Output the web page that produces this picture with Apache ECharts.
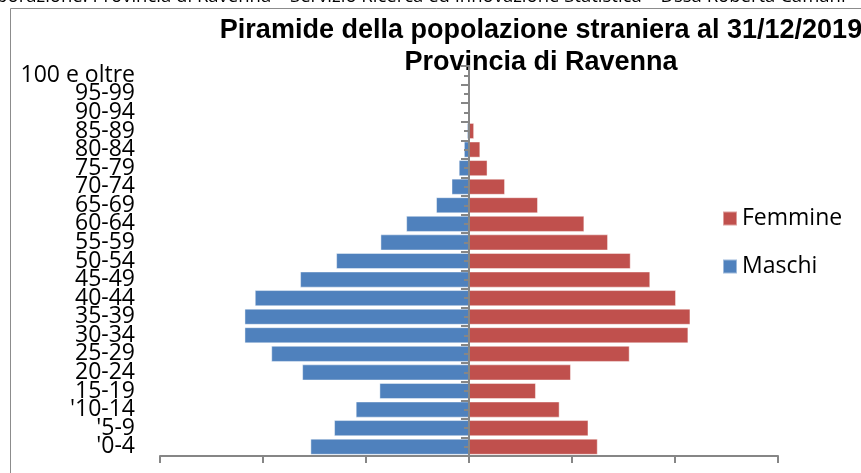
<!DOCTYPE html>
<html>
<head>
<meta charset="utf-8">
<script src="https://cdn.jsdelivr.net/npm/echarts@6/dist/echarts.min.js"></script>
<style>
  html, body { margin: 0; padding: 0; background: #fff; }
  #chart { width: 861px; height: 473px; }
</style>
</head>
<body>
<div id="chart"></div>
<script>
// classi di eta, dal basso verso l'alto
var classi = ["'0-4", "'5-9", "'10-14", '15-19', '20-24', '25-29', '30-34', '35-39',
    '40-44', '45-49', '50-54', '55-59', '60-64', '65-69', '70-74', '75-79',
    '80-84', '85-89', '90-94', '95-99', '100 e oltre'];

// residenti stranieri
var maschi = [1540, 1310, 1100, 870, 1620, 1920, 2180, 2180, 2080, 1640, 1290,
    860, 610, 320, 170, 100, 50, 20, 5, 0, 0];
var femmine = [1250, 1160, 880, 650, 990, 1560, 2130, 2150, 2010, 1760, 1570,
    1350, 1120, 670, 350, 180, 110, 50, 10, 0, 0];

var assiGrigi = '#868686';
var font = '"Open Sans", "Noto Sans", sans-serif';

var myChart = echarts.init(document.getElementById('chart'));

var option = {
    animation: false,
    backgroundColor: '#fff',
    grid: { left: 160, right: 83, top: 66, bottom: 17 },
    legend: {
        data: ['Femmine', 'Maschi'],
        orient: 'vertical',
        left: 722,
        top: 207,
        padding: 0,
        icon: 'rect',
        itemWidth: 14,
        itemHeight: 14,
        itemGap: 25,
        textStyle: { fontFamily: font, fontSize: 23, color: '#000', lineHeight: 23 }
    },
    xAxis: [
        {
            type: 'value',
            min: -3000,
            max: 3000,
            interval: 1000,
            axisLine: { show: true, lineStyle: { color: assiGrigi, width: 2 } },
            axisTick: { show: true, length: 7, lineStyle: { color: assiGrigi, width: 2 } },
            axisLabel: { show: false },
            splitLine: { show: false }
        },
        {
            // copia nascosta, serve solo per la seconda serie di tacche
            type: 'value',
            min: -3000,
            max: 3000,
            interval: 1000,
            axisLine: { show: false },
            axisTick: { show: false },
            axisLabel: { show: false },
            splitLine: { show: false }
        }
    ],
    yAxis: [
        {
            // solo etichette, a sinistra
            type: 'category',
            position: 'left',
            data: classi,
            axisLine: { show: false, onZero: false },
            axisTick: { show: false },
            axisLabel: {
                interval: 0,
                margin: 25,
                fontFamily: font,
                fontSize: 23,
                color: '#000'
            }
        },
        {
            // asse centrale
            type: 'category',
            position: 'left',
            data: classi,
            z: 10,
            axisLine: { show: true, onZero: true, onZeroAxisIndex: 0, lineStyle: { color: assiGrigi, width: 2 } },
            axisTick: { show: true, interval: 0, length: 8, lineStyle: { color: assiGrigi, width: 2 } },
            axisLabel: { show: false }
        },
        {
            // tacche corte al centro di ogni classe
            type: 'category',
            position: 'left',
            data: classi,
            z: 10,
            axisLine: { show: true, onZero: true, onZeroAxisIndex: 1, lineStyle: { color: assiGrigi, width: 2 } },
            axisTick: { show: true, interval: 0, alignWithLabel: true, length: 5, lineStyle: { color: assiGrigi, width: 2 } },
            axisLabel: { show: false }
        }
    ],
    series: [
        {
            name: 'Femmine',
            type: 'bar',
            stack: 'pop',
            barCategoryGap: '13%',
            data: femmine,
            itemStyle: { color: '#C0504D', borderColor: 'rgba(255,255,255,0.45)', borderWidth: 1 }
        },
        {
            name: 'Maschi',
            type: 'bar',
            stack: 'pop',
            barCategoryGap: '13%',
            data: maschi.map(function (v) { return -v; }),
            itemStyle: { color: '#4F81BD', borderColor: 'rgba(255,255,255,0.45)', borderWidth: 1 }
        }
    ],
    graphic: [
        {
            type: 'text',
            x: -29,
            y: 6,
            style: {
                text: 'Elaborazione: Provincia di Ravenna \u2013 Servizio Ricerca ed Innovazione Statistica \u2013 Dssa Roberta Camani',
                font: '18.5px ' + font,
                fill: '#000',
                verticalAlign: 'bottom'
            }
        },
        {
            type: 'rect',
            shape: { x: 10.5, y: 8.5, width: 1000, height: 1000 },
            style: { fill: 'none', stroke: '#8c8c8c', lineWidth: 1 },
            silent: true
        },
        {
            type: 'text',
            x: 541,
            y: 15,
            style: {
                text: 'Piramide della popolazione straniera al 31/12/2019\nProvincia di Ravenna',
                font: 'bold 27px "Liberation Sans", Arial, sans-serif',
                lineHeight: 32,
                fill: '#000',
                align: 'center',
                verticalAlign: 'top'
            }
        }
    ]
};

myChart.setOption(option);
</script>
</body>
</html>
